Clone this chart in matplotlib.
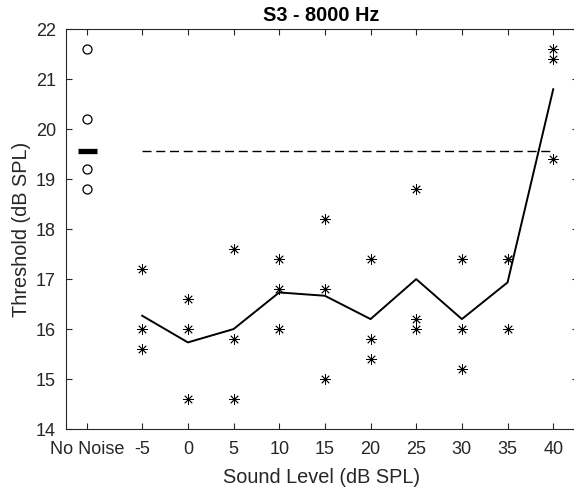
import numpy as np
import matplotlib
matplotlib.use("Agg")
import matplotlib.pyplot as plt

# ---- data ----
levels = [-5, 0, 5, 10, 15, 20, 25, 30, 35, 40]
thresholds = [
    [17.2, 16.0, 15.6],
    [16.6, 16.0, 14.6],
    [17.6, 15.8, 14.6],
    [17.4, 16.8, 16.0],
    [18.2, 16.8, 15.0],
    [17.4, 15.8, 15.4],
    [18.8, 16.2, 16.0],
    [17.4, 16.0, 15.2],
    [17.4, 17.4, 16.0],
    [21.6, 21.4, 19.4],
]
no_noise_pos = -11
no_noise_vals = [21.6, 20.2, 19.2, 18.8]
no_noise_mean = 19.56
xtick_pos = [-11, -5, 0, 5, 10, 15, 20, 25, 30, 35, 40]
xtick_labels = ["No Noise", "-5", "0", "5", "10", "15", "20", "25", "30", "35", "40"]
yticks = [14, 15, 16, 17, 18, 19, 20, 21, 22]

plt.rcParams['font.family'] = ['Liberation Sans', 'DejaVu Sans']
gray = '#262626'

fig = plt.figure(figsize=(5.74, 4.95), dpi=100)
W, H = 574, 495
left, right, top, bottom = 65.5, 577.5, 29.3, 429.0
ax = fig.add_axes([left / W, (H - bottom) / H, (right - left) / W, (bottom - top) / H])

star = (8, 2, 0)
for lv, vals in zip(levels, thresholds):
    ax.plot([lv] * len(vals), vals, linestyle='none', marker=star, markersize=7.5,
            markeredgewidth=0.6, color='black')

means = [np.mean(v) for v in thresholds]
ax.plot(levels, means, color='black', lw=1.4)

ax.plot([no_noise_pos] * len(no_noise_vals), no_noise_vals, linestyle='none', marker='o',
        markersize=6.5, markerfacecolor='none', markeredgecolor='black', markeredgewidth=0.9)
ax.plot([no_noise_pos - 1, no_noise_pos + 1], [no_noise_mean, no_noise_mean], color='black',
        lw=3.8, solid_capstyle='butt')
ax.plot([levels[0], levels[-1]], [no_noise_mean, no_noise_mean], color='black', lw=1.0,
        dashes=(6.5, 3.4))

x_per_px = 1 / 9.1333
ax.set_xlim(-13.4, -13.4 + (right - left) * x_per_px)
ax.set_ylim(14, 22)
ax.set_xticks(xtick_pos)
ax.set_xticklabels(xtick_labels)
ax.set_yticks(yticks)
ax.tick_params(direction='in', length=4, width=0.8, colors=gray, labelsize=13,
               top=True, right=True, labelcolor=gray)
ax.tick_params(axis='x', pad=8.5)
ax.tick_params(axis='y', pad=7)
for s in ax.spines.values():
    s.set_color(gray)
    s.set_linewidth(0.8)

ax.set_xlabel("Sound Level (dB SPL)", fontsize=14.3, color=gray, labelpad=7)
ax.set_ylabel("Threshold (dB SPL)", fontsize=14.3, color=gray, labelpad=3)
ax.set_title("S3 - 8000 Hz", fontsize=14.3, fontweight='bold', color='black', pad=6)

fig.savefig("out.png", dpi=100)
